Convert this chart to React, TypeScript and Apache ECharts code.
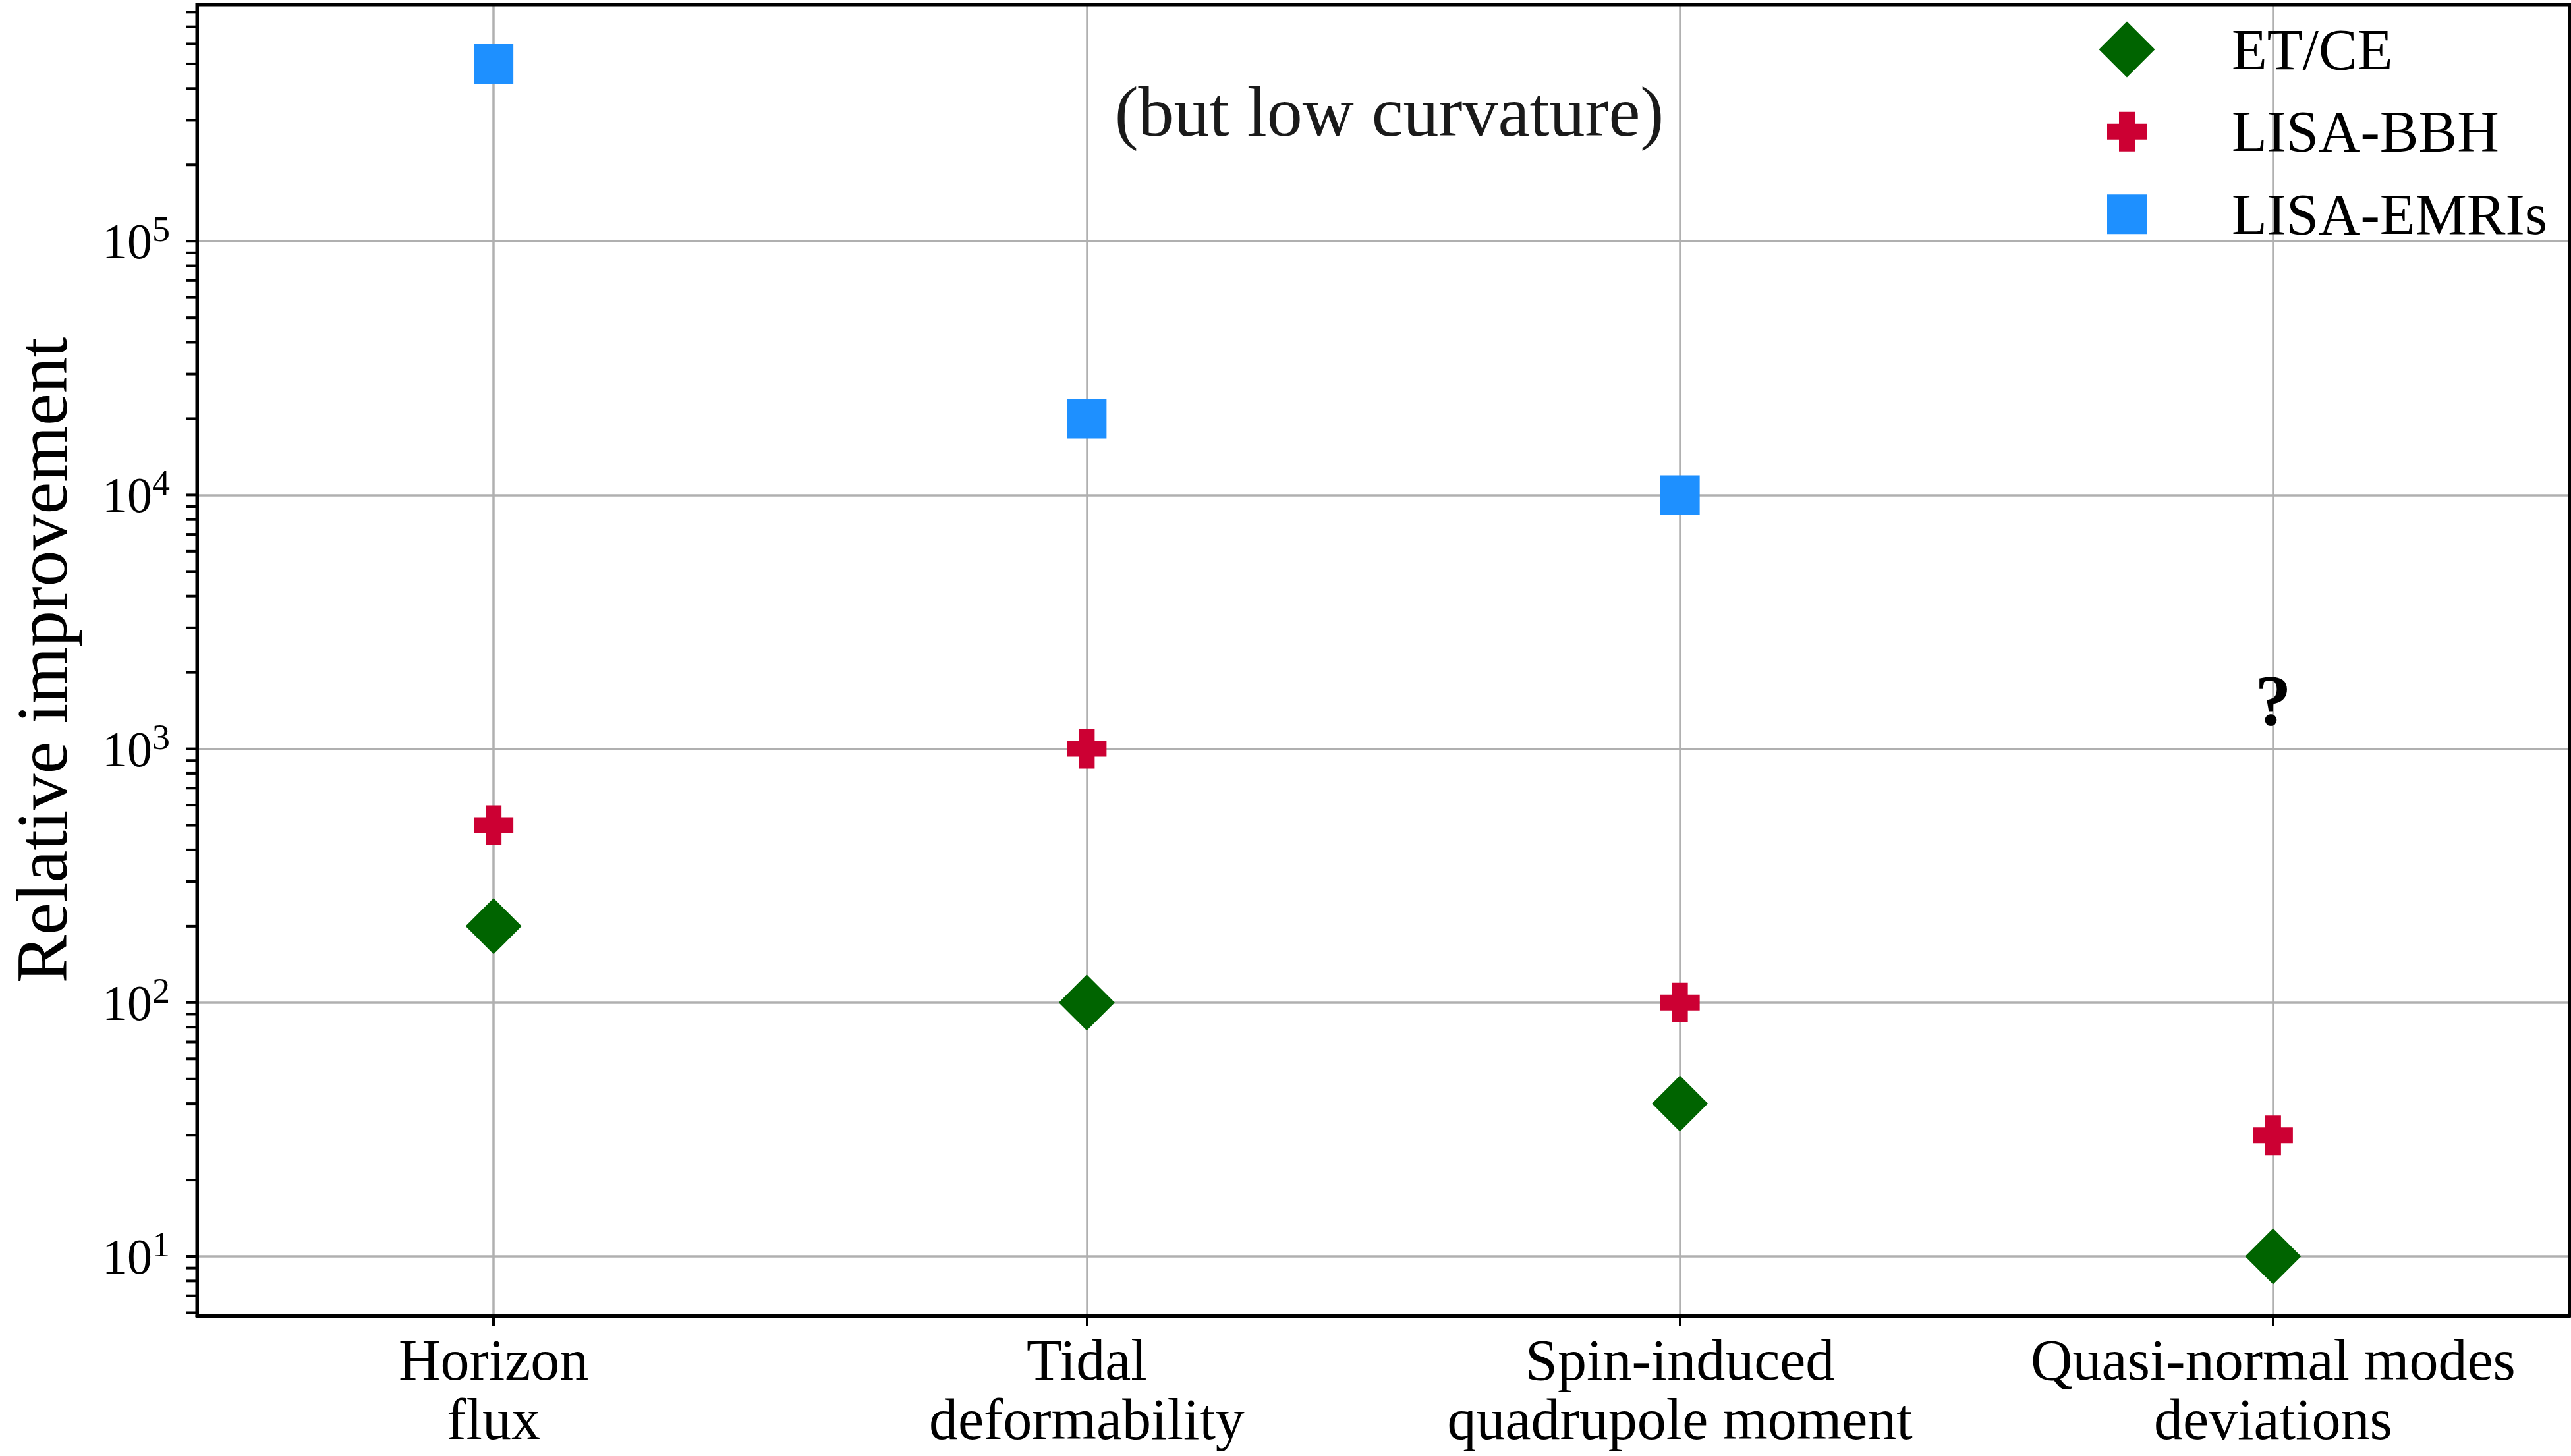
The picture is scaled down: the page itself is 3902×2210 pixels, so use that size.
import React, { useEffect, useRef } from "react";
import * as echarts from "echarts";

const W = 3902;
const H = 2210;
const SERIF = "'Liberation Serif', 'Times New Roman', Times, serif";

// Categories (x) and the relative improvement of each detector class (log y)
const categories = [
  "Horizon\nflux",
  "Tidal\ndeformability",
  "Spin-induced\nquadrupole moment",
  "Quasi-normal modes\ndeviations",
];
const etCe = [200, 100, 40, 10];
const lisaBbh = [500, 1000, 100, 30];
const lisaEmris: (number | null)[] = [5e5, 2e4, 1e4, null];

// Log axis range and tick positions
const yRange = [5.84, 8.56e5];
const majorTickValues = [1e1, 1e2, 1e3, 1e4, 1e5];
const minorMultipliers = [2, 3, 4, 5, 6, 7, 8, 9];
const decadeStarts = [1, 10, 100, 1e3, 1e4, 1e5];

// Free-floating notes placed in data coordinates
const noteTexts = ["(but low curvature)", "?"];
const noteX = [1.51, 3];
const noteY = [3.25e5, 1.55e3];

const GRID = { left: 299, top: 7, width: 3601, height: 1990 };

const PLUS = "path://M30,0H70V30H100V70H70V100H30V70H0V30H30Z";

const GREEN = "#006400";
const RED = "#CC0033";
const BLUE = "#1E90FF";
const GRIDLINE = "#b0b0b0";

function isPow10(v: number) {
  const l = Math.log10(v);
  return Math.abs(l - Math.round(l)) < 1e-6;
}

export default function App() {
  const ref = useRef<HTMLDivElement>(null);

  useEffect(() => {
    if (!ref.current) return;
    const chart = echarts.init(ref.current, undefined, { renderer: "svg" });

    const minorTicks: number[] = [];
    decadeStarts.forEach((d) =>
      minorMultipliers.forEach((m) => {
        const v = m * d;
        if (v >= yRange[0] && v <= yRange[1]) minorTicks.push(v);
      })
    );
    const tickData = [...majorTickValues, ...minorTicks].map((v) => [0, v]);

    // One legend per entry so each icon keeps its own size
    const ROW_H = 85;
    const legendRow = (name: string, size: number, centerY: number): any => ({
      data: [name],
      orient: "vertical",
      left: 3228 - size / 2,
      top: centerY - Math.max(size, ROW_H) / 2,
      padding: 0,
      itemWidth: size,
      itemHeight: size,
      selectedMode: false,
      textStyle: {
        fontFamily: SERIF,
        fontSize: 88,
        color: "#000",
        lineHeight: size,
        padding: [0, 0, 0, 3387 - (3228 + size / 2) - 5],
      },
    });

    chart.setOption({
      animation: false,
      backgroundColor: "#fff",
      grid: { ...GRID, containLabel: false },
      xAxis: {
        type: "category",
        data: categories,
        boundaryGap: true,
        axisLine: { show: true, lineStyle: { color: "#000", width: 5 } },
        axisTick: {
          show: true,
          alignWithLabel: true,
          length: 16,
          lineStyle: { color: "#000", width: 4 },
        },
        axisLabel: {
          fontFamily: SERIF,
          fontSize: 88,
          lineHeight: 90,
          color: "#000",
          margin: 22,
          interval: 0,
        },
        splitLine: {
          show: true,
          alignWithLabel: true,
          lineStyle: { color: GRIDLINE, width: 3.5 },
        } as any,
      },
      yAxis: {
        type: "log",
        logBase: 10,
        min: yRange[0],
        max: yRange[1],
        name: "Relative improvement",
        nameLocation: "middle",
        nameRotate: 90,
        nameGap: 180,
        nameTextStyle: { fontFamily: SERIF, fontSize: 110, color: "#000" },
        axisLine: { show: true, lineStyle: { color: "#000", width: 5 } },
        axisTick: { show: false },
        axisLabel: {
          margin: 41,
          formatter: (v: number) =>
            isPow10(v) ? `{b|10}{s|${Math.round(Math.log10(v))}}` : "",
          rich: {
            b: {
              fontFamily: SERIF,
              fontSize: 76,
              lineHeight: 90,
              color: "#000",
            },
            s: {
              fontFamily: SERIF,
              fontSize: 54,
              lineHeight: 54,
              verticalAlign: "top",
              color: "#000",
            },
          },
        },
        splitLine: { show: true, lineStyle: { color: GRIDLINE, width: 3.5 } },
      },
      legend: [
        legendRow("ET/CE", 85, 73.5),
        legendRow("LISA-BBH", 60, 198.3),
        legendRow("LISA-EMRIs", 60, 323.7),
      ],
      series: [
        {
          name: "ET/CE",
          type: "scatter",
          data: etCe,
          symbol: "diamond",
          symbolSize: 85,
          itemStyle: { color: GREEN, opacity: 1 },
          z: 5,
        },
        {
          name: "LISA-BBH",
          type: "scatter",
          data: lisaBbh,
          symbol: PLUS,
          symbolSize: 60,
          itemStyle: { color: RED, opacity: 1 },
          z: 5,
        },
        {
          name: "LISA-EMRIs",
          type: "scatter",
          data: lisaEmris.map((v) => (v == null ? "-" : v)),
          symbol: "rect",
          symbolSize: 60,
          itemStyle: { color: BLUE, opacity: 1 },
          z: 5,
        },
        {
          name: "y-ticks",
          type: "custom",
          silent: true,
          clip: false,
          data: tickData,
          encode: { x: 0, y: 1 },
          z: 20,
          renderItem: (params: any, api: any) => {
            const y = api.coord([0, api.value(1)])[1];
            const x0 = params.coordSys.x;
            return {
              type: "line",
              shape: { x1: x0 - 16, y1: y, x2: x0, y2: y },
              style: { stroke: "#000", lineWidth: 4 },
            };
          },
        },
      ],
    });

    // Notes positioned through the grid's own coordinate conversion
    const notes = noteTexts.map((text, i) => {
      const lo = Math.floor(noteX[i]);
      const hi = Math.ceil(noteX[i]);
      const pLo = chart.convertToPixel({ gridIndex: 0 }, [lo, noteY[i]]) as number[];
      const pHi = chart.convertToPixel({ gridIndex: 0 }, [hi, noteY[i]]) as number[];
      const f = noteX[i] - lo;
      const x = pLo[0] + (pHi[0] - pLo[0]) * f;
      const bold = text === "?";
      return {
        type: "text",
        x,
        y: pLo[1],
        z: 30,
        style: {
          text,
          fontFamily: SERIF,
          fontSize: bold ? 110 : 108,
          fontWeight: bold ? "bold" : "normal",
          fill: bold ? "#000" : "#1a1a1a",
          align: "center",
          verticalAlign: "middle",
          textAlign: "center",
          textVerticalAlign: "middle",
        },
      };
    });

    chart.setOption({
      graphic: [
        {
          type: "rect",
          z: 100,
          silent: true,
          shape: { x: GRID.left, y: GRID.top, width: GRID.width, height: GRID.height },
          style: { fill: "none", stroke: "#000", lineWidth: 5 },
        },
        ...notes,
      ],
    });

    return () => chart.dispose();
  }, []);

  return (
    <div
      ref={ref}
      style={{ position: "absolute", left: 0, top: 0, width: W, height: H }}
    />
  );
}
